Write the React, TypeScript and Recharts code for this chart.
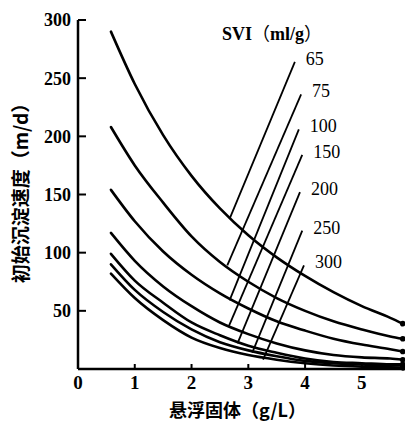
import React from 'react';
import { LineChart, Line, XAxis, YAxis, LabelList } from 'recharts';

// suspended solids (g/L), shared by the settling curves
const solids = [0.58, 1.0, 1.5, 2.0, 2.5, 3.0, 3.5, 4.0, 4.5, 5.0, 5.5, 5.72];

// initial settling velocity (m/d) for each SVI
const svi65 = [290, 245, 201, 166, 138, 115, 96, 80, 66, 54, 44, 39];
const svi75 = [208, 175, 143, 114, 92, 75, 61, 50, 41, 34, 28, 26];
const svi100 = [154, 127, 101, 81, 65, 52, 41, 33, 26, 21, 17, 15];
const svi150 = [117, 93, 71, 54, 40, 30, 22, 16, 12, 10, 9, 8];
const svi200 = [99, 76, 57, 40, 29, 20, 14, 9, 6, 5, 4, 4];
const svi250 = [90, 68, 49, 34, 23, 16, 11, 7, 5, 4, 3, 3];
const svi300 = [82, 61, 42, 27, 18, 12, 8, 5, 3, 2, 1.5, 1];

const curves = [svi65, svi75, svi100, svi150, svi200, svi250, svi300];

// straight index lines, from the curve up to the SVI label
const sviLabels = ['65', '75', '100', '150', '200', '250', '300'];
const lineStartX = [2.67, 2.63, 2.67, 2.65, 2.81, 3.07, 3.26];
const lineStartY = [129, 89, 59, 36, 22, 14, 8];
const lineEndX = [3.82, 3.93, 3.89, 3.95, 3.91, 3.95, 3.98];
const lineEndY = [264, 236, 206, 184, 152, 119, 89];

const xTicks = [0, 1, 2, 3, 4, 5];
const yTicks = [50, 100, 150, 200, 250, 300];

const numFont = '"Liberation Serif", "DejaVu Serif", serif';
const cjkFont = '"Noto Sans CJK SC", sans-serif';

export default function App() {
  const curveData = curves.map(vals => solids.map((x, i) => ({ x, y: vals[i] })));
  const indexLines = sviLabels.map((name, i) => ({
    name,
    data: [
      { x: lineStartX[i], y: lineStartY[i] },
      { x: lineEndX[i], y: lineEndY[i] },
    ],
  }));

  const endDot = (last: number) => (props: any) => {
    const { cx, cy, index } = props;
    if (index !== last) return <g key={`d-${index}`} />;
    return <circle key={`d-${index}`} cx={cx} cy={cy} r={2.8} fill="#000" />;
  };

  return (
    <div style={{ position: 'absolute', left: 0, top: 0, width: 412, height: 421, background: '#fff' }}>
      <LineChart width={412} height={421} margin={{ top: 20, right: 7, bottom: 7, left: 0 }}>
        <XAxis
          type="number"
          dataKey="x"
          domain={[0, 5.76]}
          ticks={xTicks}
          allowDataOverflow
          height={45}
          axisLine={{ stroke: '#000', strokeWidth: 2.5 }}
          tickLine={{ stroke: '#000', strokeWidth: 2 }}
          tickSize={-5}
          tickMargin={12}
          tick={{ fill: '#000', fontSize: 19, fontWeight: 700, fontFamily: numFont }}
          label={{
            content: (p: any) => {
              const vb = p.viewBox || { x: 78, y: 369, width: 327 };
              return (
                <text x={vb.x + vb.width / 2 - 4} y={vb.y + 48} textAnchor="middle" fontFamily={cjkFont} fontSize={18} fontWeight={700} fill="#000">
                  悬浮固体（g/L）
                </text>
              );
            },
          }}
        />
        <YAxis
          type="number"
          domain={[0, 300]}
          ticks={yTicks}
          width={78}
          axisLine={{ stroke: '#000', strokeWidth: 2.5 }}
          tickLine={{ stroke: '#000', strokeWidth: 2 }}
          tickSize={-8}
          tickMargin={15}
          tick={{ fill: '#000', fontSize: 18, fontWeight: 700, fontFamily: numFont }}
          label={{
            content: (p: any) => {
              const vb = p.viewBox || { x: 0, y: 20, height: 349 };
              const cx = 19;
              const cy = vb.y + vb.height / 2 - 6;
              return (
                <text x={cx} y={cy} transform={`rotate(-90 ${cx} ${cy})`} textAnchor="middle" dominantBaseline="central" fontFamily={cjkFont} fontSize={19} fontWeight={700} fill="#000">
                  初始沉淀速度（m/d）
                </text>
              );
            },
          }}
        />
        {curveData.map((d, i) => (
          <Line
            key={`c-${i}`}
            data={d}
            dataKey="y"
            type="monotone"
            stroke="#000"
            strokeWidth={2.6}
            strokeLinecap="round"
            dot={endDot(d.length - 1)}
            activeDot={false}
            isAnimationActive={false}
          />
        ))}
        {indexLines.map(l => (
          <Line
            key={`l-${l.name}`}
            data={l.data}
            dataKey="y"
            type="linear"
            stroke="#000"
            strokeWidth={1.8}
            dot={false}
            activeDot={false}
            isAnimationActive={false}
          >
            <LabelList
              dataKey="y"
              content={(p: any) =>
                p.index === 1 ? (
                  <text x={p.x + 11} y={p.y - 3} dominantBaseline="central" fontFamily={numFont} fontSize={18} fill="#000">
                    {l.name}
                  </text>
                ) : null
              }
            />
          </Line>
        ))}
      </LineChart>
      <div
        style={{
          position: 'absolute',
          left: 222,
          top: 21,
          fontFamily: numFont,
          fontWeight: 700,
          fontSize: 18,
          lineHeight: '22px',
          whiteSpace: 'nowrap',
          color: '#000',
        }}
      >
        SVI<span style={{ fontFamily: cjkFont, fontWeight: 400 }}>（</span>ml/g<span style={{ fontFamily: cjkFont, fontWeight: 400 }}>）</span>
      </div>
    </div>
  );
}
